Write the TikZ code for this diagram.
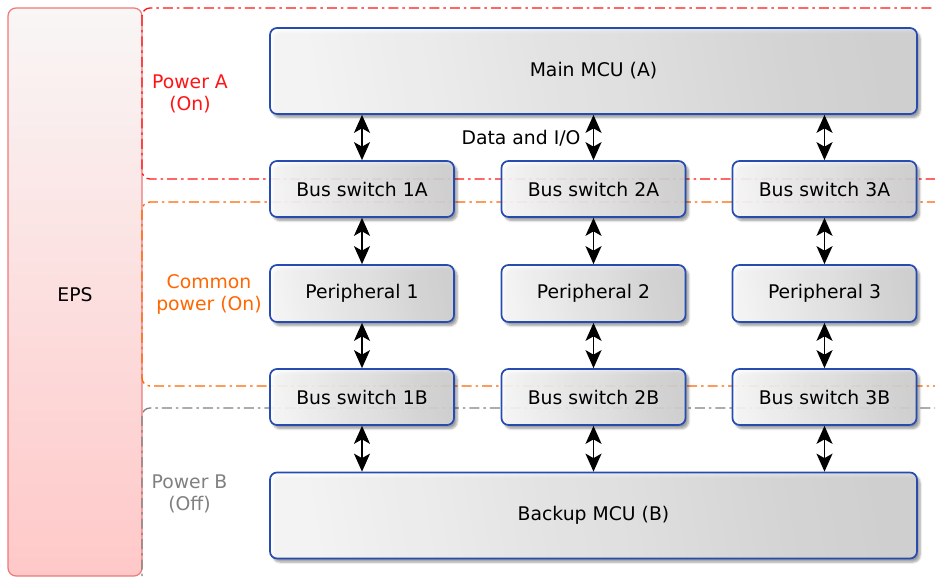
\documentclass[tikz,border=0pt]{standalone}
\usepackage{fontspec}
\setmainfont{DejaVu Sans}
\usetikzlibrary{arrows.meta,shadows.blur}

\definecolor{boxblue}{RGB}{38,76,178}
\definecolor{epsedge}{RGB}{240,120,120}
\definecolor{epstop}{RGB}{249,246,246}
\definecolor{epsbot}{RGB}{255,200,200}
\definecolor{pwra}{RGB}{255,20,20}
\definecolor{pwrc}{RGB}{255,102,0}
\definecolor{pwrb}{RGB}{128,128,128}

\tikzset{
  every node/.style={font=\fontsize{18.8}{22}\selectfont, align=center},
  unit/.style={draw=boxblue, line width=1.7pt, rounded corners=7pt,
    left color=white, right color=black!16, shading angle=100,
    fill opacity=0.88, text opacity=1, inner sep=0pt,
    blur shadow={shadow xshift=3pt, shadow yshift=-3.5pt, shadow blur steps=6, shadow opacity=45}},
  swbox/.style={unit, minimum width=184pt, minimum height=56pt},
  mcubox/.style={unit, minimum width=647pt, minimum height=86pt},
  pdomain/.style={line width=1.3pt, rounded corners=8pt, dash pattern=on 10pt off 4pt on 2.5pt off 4pt},
  bus/.style={line width=1.5pt, {Stealth[length=18pt,width=16pt,inset=4.5pt]}-{Stealth[length=18pt,width=16pt,inset=4.5pt]}}
}

\begin{document}
\begin{tikzpicture}[x=1pt,y=-1pt]
\useasboundingbox (0,0) rectangle (935,577);
\clip (0,0) rectangle (935,577);

% power supply block
\draw[draw=epsedge, line width=1.2pt, rounded corners=8pt, top color=epstop, bottom color=epsbot]
  (8,8) rectangle (142,576);
\node (eps) at (75,295) {EPS};

% power domains
\draw[pdomain, pwra] (142,8) rectangle (990,179);
\draw[pdomain, pwrc] (142,202) rectangle (990,386);
\draw[pdomain, pwrb] (142,408) rectangle (990,640);

\node[text=pwra] (lbla) at (190,94) {Power A\\(On)};
\node[text=pwrc] (lblc) at (209,294) {Common\\power (On)};
\node[text=pwrb] (lblb) at (189.5,494) {Power B\\(Off)};

% controllers, switches and peripherals
\node[mcubox] (mcua) at (593.5,71) {Main MCU (A)};
\node[mcubox] (mcub) at (593.5,515.5) {Backup MCU (B)};

\node[swbox] (s1a) at (362,189) {Bus switch 1A};
\node[swbox] (s2a) at (593.5,189) {Bus switch 2A};
\node[swbox] (s3a) at (824.5,189) {Bus switch 3A};

\node[swbox, minimum height=57pt] (p1) at (362,293.5) {Peripheral 1};
\node[swbox, minimum height=57pt] (p2) at (593.5,293.5) {Peripheral 2};
\node[swbox, minimum height=57pt] (p3) at (824.5,293.5) {Peripheral 3};

\node[swbox] (s1b) at (362,397) {Bus switch 1B};
\node[swbox] (s2b) at (593.5,397) {Bus switch 2B};
\node[swbox] (s3b) at (824.5,397) {Bus switch 3B};

% data buses
\foreach \sa/\p/\sb in {s1a/p1/s1b, s2a/p2/s2b, s3a/p3/s3b}{
  \draw[bus] (mcua.south -| \sa.north) -- (\sa.north);
  \draw[bus] (\sa.south) -- (\p.north);
  \draw[bus] (\p.south) -- (\sb.north);
  \draw[bus] (\sb.south) -- (mcub.north -| \sb.south);
}

\node[anchor=east] (dio) at (584,138) {Data and I/O};
\end{tikzpicture}
\end{document}
